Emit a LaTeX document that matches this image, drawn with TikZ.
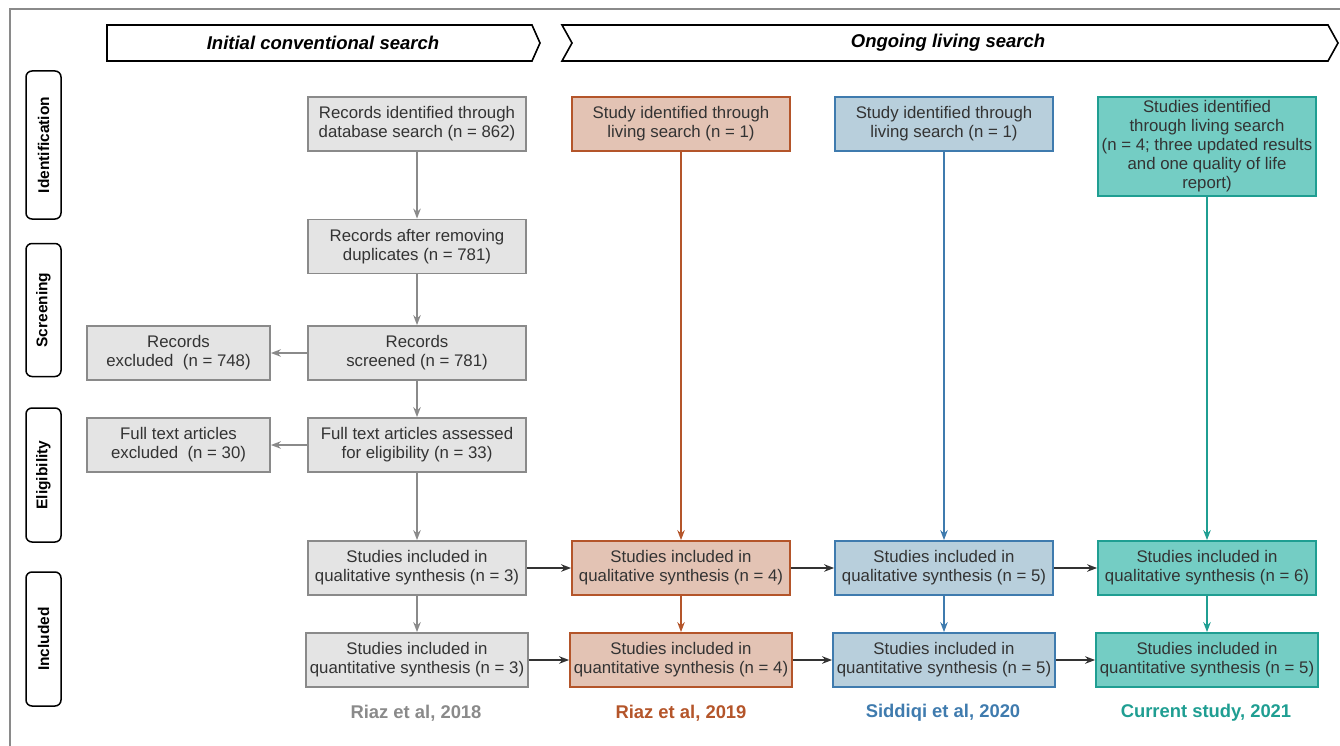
\documentclass[tikz,border=0pt]{standalone}
\usepackage{fontspec}
\setmainfont{Liberation Sans}
\usetikzlibrary{arrows.meta,positioning}

\definecolor{boxgray}{HTML}{E4E4E4}
\definecolor{linegray}{HTML}{8A8A8A}
\definecolor{riazfill}{HTML}{E3C3B4}
\definecolor{riazline}{HTML}{B4552A}
\definecolor{sidfill}{HTML}{B8CFDC}
\definecolor{sidline}{HTML}{3F7BAE}
\definecolor{curfill}{HTML}{74CDC4}
\definecolor{curline}{HTML}{1F9E92}
\definecolor{txt}{HTML}{333333}

\begin{document}
\begin{tikzpicture}[%
    >={Stealth[length=10pt,width=7.5pt]},   % arrow tips of the flow
    x=1pt, y=-1pt,                          % one unit = one pixel, y downwards
    box/.style={draw, line width=1.8pt, minimum width=218pt, minimum height=54pt,
        inner sep=1pt, align=center, text=txt,
        font={\fontsize{16.8}{19}\selectfont}},
    graybox/.style={box, draw=linegray, fill=boxgray},
    riazbox/.style={box, draw=riazline, fill=riazfill},
    sidbox/.style={box, draw=sidline, fill=sidfill},
    curbox/.style={box, draw=curline, fill=curfill},
    stage/.style={draw, rounded corners=6pt, line width=1.5pt, rotate=90,
        minimum height=35pt, inner sep=0pt, font={\bfseries\fontsize{15.5}{17}\selectfont}},
    banner/.style={draw, line width=1.6pt},
    search/.style={font={\bfseries\itshape\fontsize{18.5}{20}\selectfont}},
    year/.style={font={\bfseries\fontsize{18.4}{20}\selectfont}},
    flow/.style={->, line width=1.5pt},
    linkarrow/.style={->, line width=1.8pt, draw=black!80}
    ]

    \useasboundingbox (0,0) rectangle (1340,746);
    \draw[linegray, line width=1.2pt] (10,746) -- (10,9) -- (1340,9);

    % banners over the two searches
    \draw[banner] (107,25) -- (532,25) -- (540,43) -- (532,61) -- (107,61) -- cycle;
    \draw[banner] (562,25) -- (1328,25) -- (1338,43) -- (1328,61) -- (562,61) -- (572,43) -- cycle;
    \node at (323,43) [search] (initial) {Initial conventional search};
    \node at (948,43) [search] (ongoing) {Ongoing living search};

    % stages
    \node at (43.5,145) [stage, minimum width=148pt] (ident) {Identification};
    \node at (43.5,310) [stage, minimum width=133pt] (screen) {Screening};
    \node at (43.5,475) [stage, minimum width=134pt] (elig) {Eligibility};
    \node at (43.5,639) [stage, minimum width=134pt] (incl) {Included};

    % initial conventional search
    \node at (417,124) [graybox] (g1) {Records identified through\\database search (n = 862)};
    \node at (417,246.5) [graybox] (g2) {Records after removing\\duplicates (n = 781)};
    \node at (417,353) [graybox] (g3) {Records\\screened (n = 781)};
    \node at (178.5,353) [graybox, minimum width=183pt] (gx1) {Records\\excluded\ \ (n = 748)};
    \node at (417,445) [graybox] (g4) {Full text articles assessed\\for eligibility (n = 33)};
    \node at (178.5,445) [graybox, minimum width=183pt] (gx2) {Full text articles\\excluded\ \ (n = 30)};
    \node at (417,568) [graybox] (g5) {Studies included in\\qualitative synthesis (n = 3)};
    \node at (417,660) [graybox, minimum width=222pt] (g6) {Studies included in\\quantitative synthesis (n = 3)};
    \node at (416,713) [year, text=linegray] (gy) {Riaz et al, 2018};
        \draw [flow, linegray] (g1) -- (g2);
        \draw [flow, linegray] (g2) -- (g3);
        \draw [flow, linegray] (g3) -- (gx1);
        \draw [flow, linegray] (g3) -- (g4);
        \draw [flow, linegray] (g4) -- (gx2);
        \draw [flow, linegray] (g4) -- (g5);
        \draw [flow, linegray] (g5) -- (g6);

    % Riaz et al, 2019
    \node at (681,124) [riazbox] (r1) {Study identified through\\living search (n = 1)};
    \node at (681,568) [riazbox] (r2) {Studies included in\\qualitative synthesis (n = 4)};
    \node at (681,660) [riazbox, minimum width=222pt] (r3) {Studies included in\\quantitative synthesis (n = 4)};
    \node at (681,713) [year, text=riazline] (ry) {Riaz et al, 2019};
        \draw [flow, riazline] (r1) -- (r2);
        \draw [flow, riazline] (r2) -- (r3);

    % Siddiqi et al, 2020
    \node at (944,124) [sidbox] (s1) {Study identified through\\living search (n = 1)};
    \node at (944,568) [sidbox] (s2) {Studies included in\\qualitative synthesis (n = 5)};
    \node at (944,660) [sidbox, minimum width=222pt] (s3) {Studies included in\\quantitative synthesis (n = 5)};
    \node at (943,713) [year, text=sidline] (sy) {Siddiqi et al, 2020};
        \draw [flow, sidline] (s1) -- (s2);
        \draw [flow, sidline] (s2) -- (s3);

    % current study
    \node at (1207,146.5) [curbox, minimum height=99pt] (c1) {Studies identified\\through living search\\(n = 4; three updated results\\and one quality of life\\report)};
    \node at (1207,568) [curbox] (c2) {Studies included in\\qualitative synthesis (n = 6)};
    \node at (1207,660) [curbox, minimum width=222pt] (c3) {Studies included in\\quantitative synthesis (n = 5)};
    \node at (1206,713) [year, text=curline] (cy) {Current study, 2021};
        \draw [flow, curline] (c1) -- (c2);
        \draw [flow, curline] (c2) -- (c3);

    % from one review to the next
    \draw [linkarrow] (g5) -- (r2);
    \draw [linkarrow] (r2) -- (s2);
    \draw [linkarrow] (s2) -- (c2);
    \draw [linkarrow] (g6) -- (r3);
    \draw [linkarrow] (r3) -- (s3);
    \draw [linkarrow] (s3) -- (c3);
\end{tikzpicture}
\end{document}
